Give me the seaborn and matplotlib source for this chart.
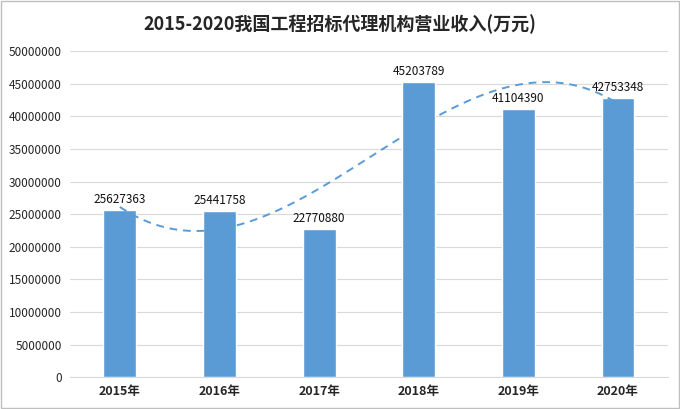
import matplotlib
matplotlib.use('Agg')
import matplotlib.pyplot as plt
import seaborn as sns
import numpy as np
import pandas as pd

years = ['2015年', '2016年', '2017年', '2018年', '2019年', '2020年']
revenue = [25627363, 25441758, 22770880, 45203789, 41104390, 42753348]
title = '2015-2020我国工程招标代理机构营业收入(万元)'

sns.set_style('white')
plt.rcParams['font.family'] = ['Noto Sans CJK SC', 'DejaVu Sans']

df = pd.DataFrame({'year': years, 'revenue': revenue, 'pos': np.arange(len(years))})

fig = plt.figure(figsize=(6.8, 4.09), dpi=100)
ax = fig.add_axes([0.103, 0.078, 0.879, 0.797])

# grid first so bars sit on top
ax.set_axisbelow(True)
ax.yaxis.grid(True, color='#d9d9d9', linewidth=0.8)

sns.barplot(data=df, x='year', y='revenue', color='#5b9bd5', width=0.33,
            saturation=1, ax=ax)

# polynomial trend line like the excel one
sns.regplot(data=df, x='pos', y='revenue', order=3, ci=None, scatter=False,
            line_kws={'color': '#5b9bd5', 'linestyle': (0, (4, 3)), 'linewidth': 1.4},
            ax=ax)

for i, v in enumerate(revenue):
    ax.text(i, v + 600000, str(v), ha='center', va='bottom', fontsize=8.5, color='#111111')

ax.set_ylim(0, 50000000)
ax.set_yticks(np.arange(0, 50000001, 5000000))
ax.set_yticklabels([str(int(t)) for t in np.arange(0, 50000001, 5000000)], fontsize=8.5)
ax.set_xlim(-0.5, 5.5)
ax.set_xticks(range(len(years)))
ax.set_xticklabels(years, fontsize=9, fontweight='bold')
ax.set_xlabel('')
ax.set_ylabel('')
ax.tick_params(axis='both', length=0, pad=6)
for s in ['top', 'right', 'left']:
    ax.spines[s].set_visible(False)
ax.spines['bottom'].set_color('#d9d9d9')

fig.text(0.5, 0.94, title, ha='center', va='center', fontsize=13, fontweight='bold')

# outer border
fig.patches.append(plt.Rectangle((0.002, 0.002), 0.996, 0.996, transform=fig.transFigure,
                                 fill=False, edgecolor='#bfbfbf', linewidth=1))

fig.savefig('out.png', dpi=100)
